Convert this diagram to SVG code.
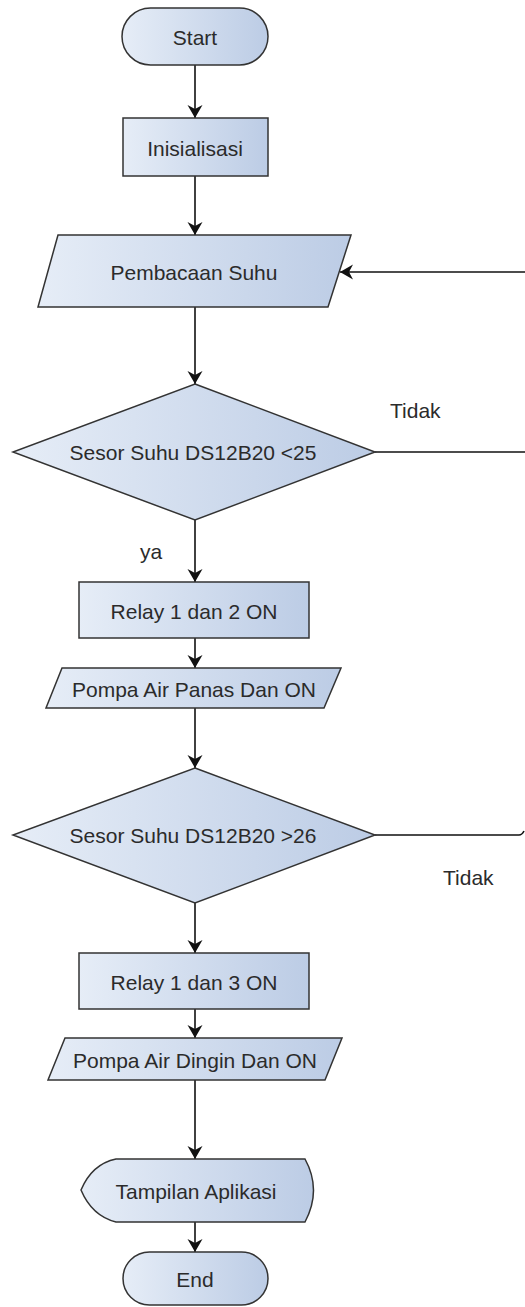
<svg xmlns="http://www.w3.org/2000/svg" width="525" height="1307" viewBox="0 0 525 1307">
<defs>
<linearGradient id="g" x1="0" y1="0" x2="1" y2="0">
<stop offset="0" stop-color="#e6edf7"/>
<stop offset="1" stop-color="#bccce5"/>
</linearGradient>
<marker id="arr" markerUnits="userSpaceOnUse" markerWidth="16" markerHeight="16" refX="13" refY="7.5" orient="auto">
<path d="M0,0 L13,7.5 L0,15 L4,7.5 Z" fill="#111"/>
</marker>
<style>
.s{fill:url(#g);stroke:#333;stroke-width:1.5}
.t{font-family:"Liberation Sans",Arial,sans-serif;font-size:21px;fill:#2b2b2b;text-anchor:middle;dominant-baseline:central}
.l{font-family:"Liberation Sans",Arial,sans-serif;font-size:21px;fill:#2b2b2b}
.c{fill:none;stroke:#111;stroke-width:1.6}
</style>
</defs>
<rect width="525" height="1307" fill="#fff"/>
<g id="connectors">
<line class="c" x1="195" y1="65" x2="195" y2="118" marker-end="url(#arr)"/>
<line class="c" x1="195" y1="176" x2="195" y2="235" marker-end="url(#arr)"/>
<line class="c" x1="195" y1="307" x2="195" y2="384" marker-end="url(#arr)"/>
<line class="c" x1="195" y1="520" x2="195" y2="582" marker-end="url(#arr)"/>
<line class="c" x1="195" y1="638" x2="195" y2="668" marker-end="url(#arr)"/>
<line class="c" x1="195" y1="708" x2="195" y2="768" marker-end="url(#arr)"/>
<line class="c" x1="195" y1="903" x2="195" y2="953" marker-end="url(#arr)"/>
<line class="c" x1="195" y1="1009" x2="195" y2="1038" marker-end="url(#arr)"/>
<line class="c" x1="195" y1="1080" x2="195" y2="1159" marker-end="url(#arr)"/>
<line class="c" x1="195" y1="1222" x2="195" y2="1252" marker-end="url(#arr)"/>
<line class="c" x1="525" y1="272" x2="340" y2="272" marker-end="url(#arr)"/>
<line class="c" x1="375" y1="452" x2="525" y2="452"/>
<path class="c" d="M375,835 H519 Q522,835 524,831"/>
<text class="l" x="390" y="418">Tidak</text>
<text class="l" x="140" y="559">ya</text>
<text class="l" x="443" y="885">Tidak</text>
</g>
<g id="start">
<rect class="s" x="122" y="8" width="146" height="57" rx="28.5"/>
<text class="t" x="195" y="37">Start</text>
</g>
<g id="inisialisasi">
<rect class="s" x="123" y="118" width="145" height="58"/>
<text class="t" x="195" y="148">Inisialisasi</text>
</g>
<g id="pembacaan">
<polygon class="s" points="58,235 351,235 328,307 38,307"/>
<text class="t" x="194" y="272">Pembacaan Suhu</text>
</g>
<g id="decision1">
<polygon class="s" points="195,384 375,452 195,520 13,452"/>
<text class="t" x="193" y="452">Sesor Suhu DS12B20 &lt;25</text>
</g>
<g id="relay12">
<rect class="s" x="79" y="582" width="230" height="56"/>
<text class="t" x="194" y="611">Relay 1 dan 2 ON</text>
</g>
<g id="pompapanas">
<polygon class="s" points="62,668 341,668 324,708 46,708"/>
<text class="t" x="194" y="689">Pompa Air Panas Dan ON</text>
</g>
<g id="decision2">
<polygon class="s" points="195,768 375,835 195,903 13,835"/>
<text class="t" x="193" y="835">Sesor Suhu DS12B20 &gt;26</text>
</g>
<g id="relay13">
<rect class="s" x="79" y="953" width="230" height="56"/>
<text class="t" x="194" y="982">Relay 1 dan 3 ON</text>
</g>
<g id="pompadingin">
<polygon class="s" points="65,1038 342,1038 325,1080 48,1080"/>
<text class="t" x="195" y="1060">Pompa Air Dingin Dan ON</text>
</g>
<g id="tampilan">
<path class="s" d="M81,1190 Q92,1164 116,1159 L305,1159 Q322,1190 305,1222 L116,1222 Q92,1216 81,1190 Z"/>
<text class="t" x="196" y="1191">Tampilan Aplikasi</text>
</g>
<g id="end">
<rect class="s" x="123" y="1252" width="145" height="53" rx="26.5"/>
<text class="t" x="195" y="1279">End</text>
</g>
</svg>
